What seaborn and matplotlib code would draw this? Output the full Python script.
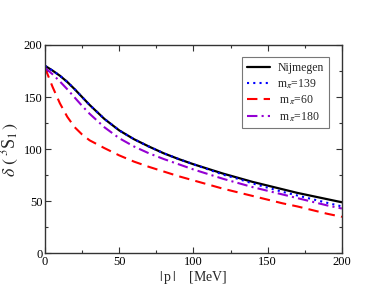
"""
3S1 phase shift vs momentum, Nijmegen vs different pion masses.
"""

import matplotlib
matplotlib.use("Agg")
import matplotlib.pyplot as plt
from matplotlib.ticker import MultipleLocator
import pandas as pd
import seaborn as sns

# momentum grid |p| in MeV
p_mev = [0, 5, 10, 15, 20, 25, 30, 40, 50, 60, 70, 80, 90, 100,
         110, 120, 130, 140, 150, 160, 170, 180, 190, 200]

# phase shifts (degrees)
nijmegen = [180, 175.5, 170.5, 164.5, 157.5, 150, 142.5, 129, 118, 109.5, 102.5, 96, 90.5, 85.5,
            81, 76.5, 72.5, 68.5, 65, 61.5, 58, 55, 52, 49]
mpi_139 = [180, 175.5, 170.5, 164.5, 157.5, 150, 142.5, 129, 118, 109.5, 102.5, 96, 90.5, 85.5,
           80.5, 75.5, 71.5, 67, 63, 59, 55.5, 52, 48.5, 45]
mpi_60 = [178, 160, 144, 131, 121, 114, 108.5, 101, 94, 88, 83, 78.5, 74, 70,
          66, 62, 58.5, 55, 51.5, 48, 45, 41.5, 38, 35]
mpi_180 = [178, 172, 165, 157.5, 149.5, 141.5, 134, 121, 110.5, 102.5, 96, 90.5, 85.5, 80.5,
           76, 71.5, 67.5, 63.5, 60, 56.5, 53, 49.5, 46, 43]

labels = ["Nijmegen", r"m$_\pi$=139", r" m$_\pi$=60", r" m$_\pi$=180"]
series = [nijmegen, mpi_139, mpi_60, mpi_180]

df = pd.concat(
    [pd.DataFrame({"p": p_mev, "delta": vals, "curve": lab})
     for lab, vals in zip(labels, series)],
    ignore_index=True,
)

sns.set_style("ticks")
plt.rcParams["font.family"] = ["Liberation Serif", "DejaVu Serif"]
plt.rcParams["mathtext.fontset"] = "stix"

fig = plt.figure(figsize=(3.85, 2.98), dpi=100)
ax = fig.add_axes([0.117, 0.150, 0.771, 0.699])

styles = {
    labels[0]: dict(color="black", linestyle="-", linewidth=1.6),
    labels[1]: dict(color="#0000ff", linestyle=(0, (1, 2)), linewidth=1.5),
    labels[2]: dict(color="#ff0000", linestyle=(0, (5, 3)), linewidth=1.5),
    labels[3]: dict(color="#9400d3", linestyle=(0, (5, 2, 1, 2)), linewidth=1.5),
}
for lab in labels:
    sns.lineplot(data=df[df["curve"] == lab], x="p", y="delta", ax=ax,
                 label=lab, **styles[lab])

ax.set_xlim(0, 200)
ax.set_ylim(0, 200)
ax.xaxis.set_major_locator(MultipleLocator(50))
ax.xaxis.set_minor_locator(MultipleLocator(25))
ax.yaxis.set_major_locator(MultipleLocator(50))
ax.yaxis.set_minor_locator(MultipleLocator(25))
ax.tick_params(which="both", direction="in", top=True, right=True,
               labelsize=9, width=0.8, pad=2, colors="#333333",
               labelcolor="black")
ax.tick_params(which="major", length=4)
ax.tick_params(which="minor", length=2.5)
for sp in ax.spines.values():
    sp.set_linewidth(1.0)
    sp.set_color("#333333")

ax.set_xlabel(r"$|\,$p$\,|$    [MeV]", fontsize=10, labelpad=1)
ax.set_ylabel(r"$\delta\ (\,^3$S$_1\,)$", fontsize=13, labelpad=2)

leg = ax.legend(loc="upper right", bbox_to_anchor=(0.955, 0.94),
                fontsize=8.5, frameon=True, fancybox=False,
                handlelength=2.0, handletextpad=0.6, borderpad=0.4,
                labelspacing=0.25, borderaxespad=0)
leg.get_frame().set_edgecolor("#555555")
leg.get_frame().set_linewidth(0.8)

fig.savefig("out.png", dpi=100)
plt.close(fig)
